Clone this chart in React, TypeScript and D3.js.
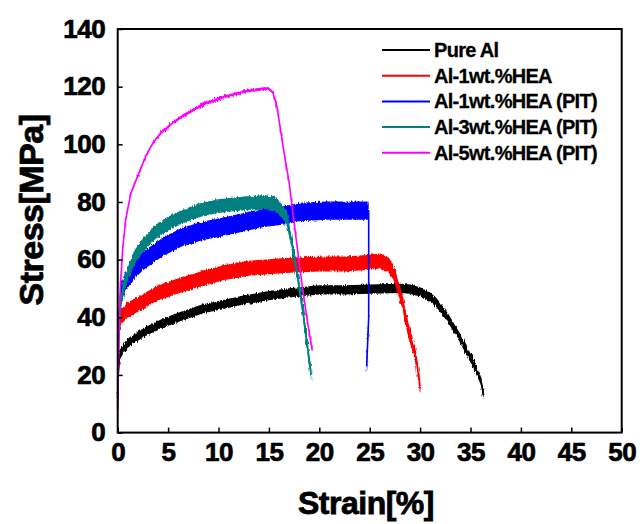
import * as d3 from "d3";
import { useEffect, useRef } from "react";

// strain [%] / stress [MPa]
const pureAlStrain = [0, 0.05, 0.2, 0.5, 1, 2, 3, 4.5, 6, 8.5, 10.5, 12.5, 15, 17, 20, 22.5, 25, 28, 29, 30, 31, 31.6, 32.2, 32.8, 33.5, 34, 34.6, 35.2, 35.6, 36, 36.3];
const pureAlStress = [10, 20, 27, 29, 31, 33.5, 35.5, 38, 40, 43, 44.5, 46, 47.5, 48.5, 49.5, 49.5, 49.8, 50, 49.8, 48.8, 47, 45.2, 42.5, 39.5, 35.5, 32.6, 28.5, 24.5, 21.5, 18.5, 13];

const al1Strain = [0, 0.1, 0.3, 1, 2.5, 4, 6.5, 8.5, 10.6, 13, 16.6, 20, 22.5, 24.7, 26, 26.8, 27.3, 27.6, 28.2, 28.8, 29.2, 29.6, 30];
const al1Stress = [12, 35, 40, 42.5, 45.5, 48.5, 51.5, 53.5, 55.5, 57, 58, 58.5, 58.5, 59, 59.5, 58.5, 56, 53, 46, 36, 31, 25.7, 16];

const al1PitStrain = [0, 0.1, 0.3, 0.7, 1.5, 2.5, 3.5, 4.5, 6.5, 8.5, 10.6, 12.5, 14.5, 16.7, 18, 20.7, 23, 24.9, 24.9, 24.9, 24.7];
const al1PitStress = [12, 40, 48, 52, 56, 59.5, 62, 64.5, 68, 70, 71.5, 73, 74.5, 75.5, 76.5, 77, 77, 77, 60, 40, 23];

const al3PitStrain = [0, 0.1, 0.3, 0.6, 1, 1.7, 2.5, 3.7, 5, 6.5, 8, 9.8, 11, 12.6, 14.5, 15.5, 16.2, 16.8, 17.3, 17.8, 18.3, 18.7, 19, 19.2];
const al3PitStress = [12, 35, 45, 51, 55, 61, 65, 69.5, 72.5, 75, 77, 78.5, 79, 79.5, 80, 79.5, 77.5, 74, 65, 55, 44, 33, 25, 20];

const al5PitStrain = [0, 0.1, 0.25, 0.5, 0.8, 1.3, 2.1, 2.8, 3.5, 4.3, 5.3, 6.5, 8.6, 10.6, 12.6, 14, 14.9, 15.4, 15.8, 16.2, 16.6, 17, 17.6, 18.3, 18.8, 19.3];
const al5PitStress = [8, 30, 50, 64, 74, 83, 90, 96, 100.5, 104, 107, 110, 114, 116.5, 118.3, 119, 119.5, 118, 113, 104, 95, 87, 70, 51, 39, 28.5];

// half width of the noisy scatter band of each curve [MPa]
const noiseBand = [1.6, 2.6, 3.2, 2.4, 0.5];

const seriesNames = ["Pure Al", "Al-1wt.%HEA", "Al-1wt.%HEA (PIT)", "Al-3wt.%HEA (PIT)", "Al-5wt.%HEA (PIT)"];
const seriesColors = ["#000000", "#ff0000", "#0000ff", "#008080", "#ff00ff"];

const xTicks = [0, 5, 10, 15, 20, 25, 30, 35, 40, 45, 50];
const yTicks = [0, 20, 40, 60, 80, 100, 120, 140];

const FONT = "'Liberation Sans', Arial, Helvetica, sans-serif";

export default function App() {
    const xAxisRef = useRef<SVGGElement>(null);
    const yAxisRef = useRef<SVGGElement>(null);

    const size = { w: 640, h: 524 };
    const plot = { left: 117.7, right: 621.7, top: 29, bottom: 432.6 };

    const x = d3.scaleLinear([0, 50], [plot.left, plot.right]);
    const y = d3.scaleLinear([0, 140], [plot.bottom, plot.top]);

    const strains = [pureAlStrain, al1Strain, al1PitStrain, al3PitStrain, al5PitStrain];
    const stresses = [pureAlStress, al1Stress, al1PitStress, al3PitStress, al5PitStress];

    const series = seriesNames.map((name, i) => ({
        name,
        color: seriesColors[i],
        band: noiseBand[i],
        points: strains[i].map((s, j) => ({ s, v: stresses[i][j] })),
    }));

    const line = d3.line<{ s: number; v: number }>()
        .x(d => x(d.s))
        .y(d => y(d.v));

    useEffect(() => {
        const xa = d3.select(xAxisRef.current!);
        xa.call(d3.axisBottom(x).tickValues(xTicks).tickSizeInner(-5).tickSizeOuter(0).tickPadding(10));
        const ya = d3.select(yAxisRef.current!);
        ya.call(d3.axisLeft(y).tickValues(yTicks).tickSizeInner(-5).tickSizeOuter(0).tickPadding(12.5));
        [xa, ya].forEach(g => {
            g.select(".domain").remove();
            g.selectAll(".tick line").attr("stroke", "#000").attr("stroke-width", 1.5);
            g.selectAll(".tick text")
                .attr("fill", "#000")
                .attr("stroke", "#000")
                .attr("stroke-width", 0.7)
                .style("font-family", FONT)
                .style("font-weight", "bold")
                .style("font-size", "26px")
                .style("letter-spacing", "-0.5px");
        });
    }, []);

    return (
        <svg width={size.w} height={size.h} style={{ position: "absolute", left: 0, top: 0, background: "#fff" }}>
            <defs>
                <filter id="rough" x="-5%" y="-5%" width="110%" height="110%">
                    <feTurbulence type="fractalNoise" baseFrequency="0.9 0.15" numOctaves={2} seed={3} result="n" />
                    <feDisplacementMap in="SourceGraphic" in2="n" scale={4} xChannelSelector="R" yChannelSelector="G" />
                </filter>
            </defs>
            <rect width={size.w} height={size.h} fill="#fff" />

            <g id="curves">
                {series.map(sr => {
                    const area = d3.area<{ s: number; v: number }>()
                        .x(d => x(d.s))
                        .y0(d => y(d.v - sr.band))
                        .y1(d => y(d.v + sr.band));
                    return (
                        <g key={sr.name}>
                            <path d={area(sr.points) ?? ""} fill={sr.color} filter="url(#rough)" />
                            <path d={line(sr.points) ?? ""} fill="none" stroke={sr.color} strokeWidth={1.6} strokeLinejoin="round" />
                        </g>
                    );
                })}
            </g>

            <rect x={plot.left} y={plot.top} width={plot.right - plot.left} height={plot.bottom - plot.top}
                fill="none" stroke="#000" strokeWidth={2} />
            <g ref={xAxisRef} transform={`translate(0, ${plot.bottom})`} />
            <g ref={yAxisRef} transform={`translate(${plot.left}, 0)`} />

            <g id="legend" style={{ fontFamily: FONT, fontWeight: "bold", fontSize: 20, letterSpacing: "-0.7px" }}>
                {series.map((sr, i) => {
                    const ry = 50 + i * 25.7;
                    return (
                        <g key={sr.name}>
                            <line x1={382} x2={430} y1={ry} y2={ry} stroke={sr.color} strokeWidth={2} />
                            <text x={434} y={ry} dominantBaseline="central" fill="#000" stroke="#000" strokeWidth={0.3}>{sr.name}</text>
                        </g>
                    );
                })}
            </g>

            <text x={366} y={514} textAnchor="middle" fill="#000" stroke="#000" strokeWidth={0.8}
                style={{ fontFamily: FONT, fontWeight: "bold", fontSize: 32, letterSpacing: "-0.5px" }}>
                Strain[%]
            </text>
            <text transform="translate(43, 210) rotate(-90)" textAnchor="middle" fill="#000" stroke="#000" strokeWidth={0.8}
                style={{ fontFamily: FONT, fontWeight: "bold", fontSize: 34, letterSpacing: "-0.5px" }}>
                Stress[MPa]
            </text>
        </svg>
    );
}
